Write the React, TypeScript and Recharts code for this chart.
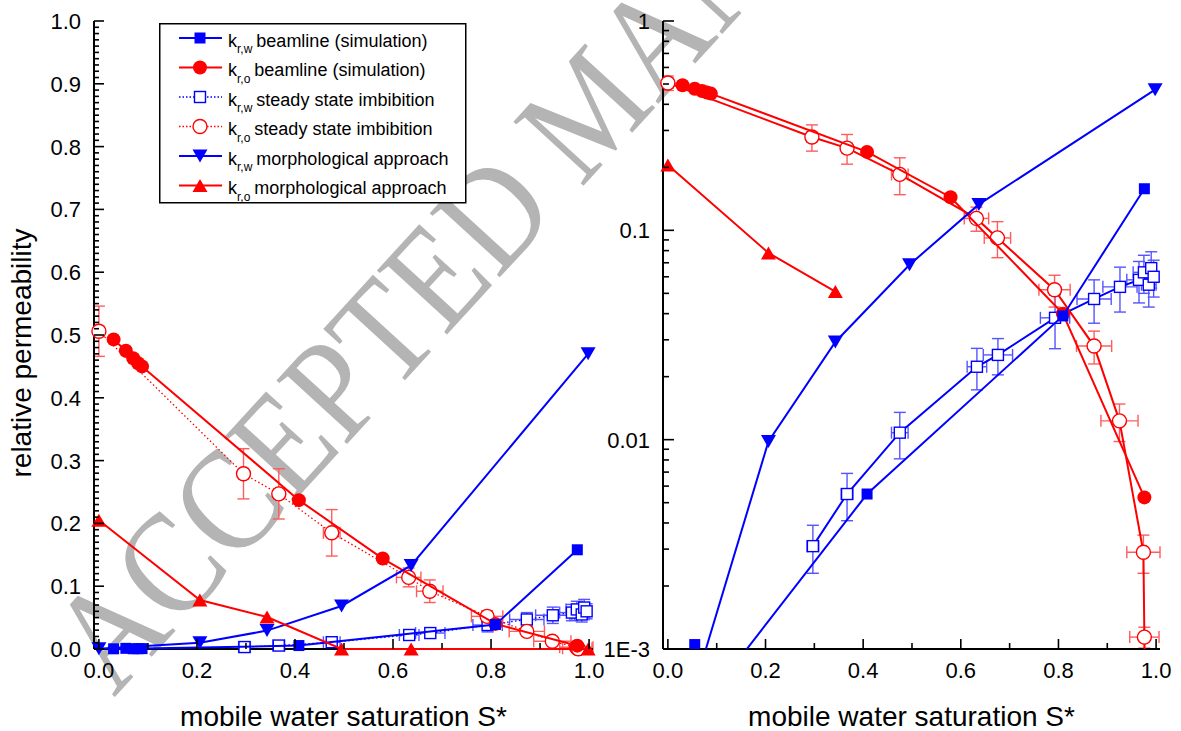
import React from "react";
import { ScatterChart, Scatter, XAxis, YAxis, ErrorBar, Legend, Label } from "recharts";

const FONT = "Arial, 'Liberation Sans', sans-serif";
const SERIF = "'Liberation Serif', 'Times New Roman', serif";
const BLUE = "#0000ff";
const RED = "#ff0000";
const BLUE_ERR = "#5555ff";
const RED_ERR = "#ff5c5c";

// ---- mobile water saturation S* vs relative permeability ----
// beamline simulation, water phase
const beamWaterSat = [0.03, 0.055, 0.07, 0.08, 0.088, 0.408, 0.809, 0.976];
const beamWaterKr = [0.0003, 0.00105, 0.0004, 0.0005, 0.0006, 0.0055, 0.039, 0.158];
// beamline simulation, oil phase
const beamOilSat = [0.03, 0.055, 0.07, 0.08, 0.088, 0.408, 0.579, 0.809, 0.976];
const beamOilKr = [0.493, 0.475, 0.463, 0.455, 0.45, 0.237, 0.144, 0.04, 0.0053];
// steady state imbibition, water phase (with uncertainties)
const ssWaterSat = [0.297, 0.367, 0.475, 0.633, 0.676, 0.793, 0.873, 0.926, 0.965, 0.975, 0.985, 0.99, 0.995];
const ssWaterKr = [0.0031, 0.0055, 0.0108, 0.0223, 0.0254, 0.0382, 0.047, 0.0537, 0.058, 0.063, 0.055, 0.066, 0.06];
const ssWaterSatErr = [0.012, 0.012, 0.017, 0.02, 0.03, 0.03, 0.035, 0.035, 0.025, 0.022, 0.015, 0.01, 0.005];
const ssWaterKrErr = [0.0008, 0.0014, 0.0027, 0.005, 0.005, 0.011, 0.011, 0.013, 0.013, 0.013, 0.012, 0.013, 0.012];
// steady state imbibition, oil phase (with uncertainties)
const ssOilSat = [0.0, 0.295, 0.367, 0.475, 0.632, 0.675, 0.792, 0.873, 0.925, 0.974, 0.976, 0.978];
const ssOilKr = [0.506, 0.279, 0.247, 0.185, 0.114, 0.092, 0.052, 0.028, 0.0123, 0.0029, 0.00114, 0.0004];
const ssOilSatErr = [0.01, 0.01, 0.01, 0.017, 0.025, 0.027, 0.032, 0.036, 0.038, 0.034, 0.03, 0];
const ssOilKrErr = [0.04, 0.04, 0.04, 0.037, 0.015, 0.018, 0.009, 0.005, 0.0025, 0.0006, 0.00013, 0];
// morphological approach
const morphSat = [0.0, 0.206, 0.343, 0.495, 0.637, 0.998];
const morphWaterKr = [0.00025, 0.0098, 0.0293, 0.0685, 0.133, 0.47];
const morphOilKr = [0.205, 0.078, 0.051, 0, 0, 0];

// ---- axis ticks ----
const satTicks = [0, 0.1, 0.2, 0.3, 0.4, 0.5, 0.6, 0.7, 0.8, 0.9, 1.0];
const satLabelled = [0, 0.2, 0.4, 0.6, 0.8, 1.0];
const linMajor = [0, 0.1, 0.2, 0.3, 0.4, 0.5, 0.6, 0.7, 0.8, 0.9, 1.0];
const linTicks = Array.from({ length: 101 }, (_, i) => i / 100);
const logMajor = [0.001, 0.01, 0.1, 1];
const logMajorText = ["1E-3", "0.01", "0.1", "1"];
const logTicks = [
  0.001, 0.002, 0.003, 0.004, 0.005, 0.006, 0.007, 0.008, 0.009,
  0.01, 0.02, 0.03, 0.04, 0.05, 0.06, 0.07, 0.08, 0.09,
  0.1, 0.2, 0.3, 0.4, 0.5, 0.6, 0.7, 0.8, 0.9, 1,
];

const legendRows = [
  { sub: "r,w", text: "beamline (simulation)", color: BLUE, marker: "fsq", dotted: false },
  { sub: "r,o", text: "beamline (simulation)", color: RED, marker: "fci", dotted: false },
  { sub: "r,w", text: "steady state imbibition", color: BLUE, marker: "osq", dotted: true },
  { sub: "r,o", text: "steady state imbibition", color: RED, marker: "oci", dotted: true },
  { sub: "r,w", text: "morphological approach", color: BLUE, marker: "dtri", dotted: false },
  { sub: "r,o", text: "morphological approach", color: RED, marker: "utri", dotted: false },
];

const pts = (xs: number[], ys: number[]) => xs.map((x, i) => ({ x, y: ys[i] }));
const ptsErr = (xs: number[], ys: number[], exs: number[], eys: number[]) =>
  xs.map((x, i) => ({ x, y: ys[i], ex: exs[i], ey: eys[i] }));

// ---- marker glyphs ----
function marker(kind: string, color: string, cx: number, cy: number, scale = 1) {
  if (!isFinite(cx) || !isFinite(cy)) return <g />;
  switch (kind) {
    case "fsq": {
      const s = 11 * scale;
      return <rect x={cx - s / 2} y={cy - s / 2} width={s} height={s} fill={color} />;
    }
    case "fci":
      return <circle cx={cx} cy={cy} r={7 * scale} fill={color} />;
    case "osq": {
      const s = 11 * scale;
      return <rect x={cx - s / 2} y={cy - s / 2} width={s} height={s} fill="#fff" stroke={color} strokeWidth={1.4} />;
    }
    case "oci":
      return <circle cx={cx} cy={cy} r={7 * scale} fill="#fff" stroke={color} strokeWidth={1.4} />;
    case "dtri": {
      const w = 15 * scale, h = 13 * scale;
      return <polygon points={`${cx - w / 2},${cy - h / 2} ${cx + w / 2},${cy - h / 2} ${cx},${cy + h / 2}`} fill={color} />;
    }
    default: {
      const w = 15 * scale, h = 13 * scale;
      return <polygon points={`${cx - w / 2},${cy + h / 2} ${cx + w / 2},${cy + h / 2} ${cx},${cy - h / 2}`} fill={color} />;
    }
  }
}
const shapeOf = (kind: string, color: string) => (p: any) => marker(kind, color, p.cx, p.cy);

// ---- axis tick renderers (ticks point into the frame) ----
const same = (a: number, b: number) => Math.abs(a - b) < 1e-9;
function tickFactory(
  side: "bottom" | "top" | "left" | "right",
  majors: number[],
  majorLen: number,
  minorLen: number,
  fmt?: (v: number) => string
) {
  return (props: any) => {
    const x = Number(props.x);
    const y = Number(props.y);
    const v = Number(props.payload?.value);
    const isMajor = majors.some((t) => same(t, v));
    const len = isMajor ? majorLen : minorLen;
    let l = { x1: x, y1: y, x2: x, y2: y - len };
    if (side === "top") l = { x1: x, y1: y, x2: x, y2: y + len };
    if (side === "left") l = { x1: x, y1: y, x2: x + len, y2: y };
    if (side === "right") l = { x1: x, y1: y, x2: x - len, y2: y };
    let label: any = null;
    if (isMajor && fmt) {
      if (side === "bottom")
        label = (
          <text x={x} y={y + 29} textAnchor="middle" fontSize={22} fontFamily={FONT} fill="#000">
            {fmt(v)}
          </text>
        );
      if (side === "left")
        label = (
          <text x={x - 13} y={y + 8} textAnchor="end" fontSize={22} fontFamily={FONT} fill="#000">
            {fmt(v)}
          </text>
        );
    }
    return (
      <g>
        <line {...l} stroke="#000" strokeWidth={1.6} />
        {label}
      </g>
    );
  };
}

const satFmt = (v: number) => v.toFixed(1);
const linFmt = (v: number) => v.toFixed(1);
const logFmt = (v: number) => {
  const i = logMajor.findIndex((t) => same(t, v));
  return i >= 0 ? logMajorText[i] : "";
};

const frameLine = { stroke: "#000", strokeWidth: 2 };

function XTitle(props: any) {
  const vb = props.viewBox || {};
  return (
    <text x={vb.x + vb.width / 2} y={vb.y + 77} textAnchor="middle" fontSize={28} fontFamily={FONT} fill="#000">
      mobile water saturation S*
    </text>
  );
}

function YTitle(props: any) {
  const vb = props.viewBox || {};
  const x = vb.x - 3;
  const y = vb.y + vb.height / 2 + 18;
  return (
    <text x={x} y={y} transform={`rotate(-90 ${x} ${y})`} textAnchor="middle" fontSize={28} fontFamily={FONT} fill="#000">
      relative permeability
    </text>
  );
}

function LegendBox() {
  return (
    <svg width={308} height={181} style={{ display: "block" }}>
      <rect x={0.75} y={0.75} width={306} height={179} fill="#fff" stroke="#000" strokeWidth={1.5} />
      {legendRows.map((r, i) => {
        const cy = 15 + i * 29.5;
        return (
          <g key={i}>
            <line
              x1={20}
              x2={63}
              y1={cy}
              y2={cy}
              stroke={r.color}
              strokeWidth={r.dotted ? 1.3 : 2}
              strokeDasharray={r.dotted ? "1.5 2" : undefined}
            />
            {marker(r.marker, r.color, 41, cy)}
            <text x={69} y={cy + 8.7} fontSize={18} fontFamily={FONT} fill="#000">
              <tspan>k</tspan>
              <tspan dy={6.5} fontSize={12}>
                {r.sub}
              </tspan>
              <tspan dy={-6.5} dx={4}>
                {r.text}
              </tspan>
            </text>
          </g>
        );
      })}
    </svg>
  );
}

function series(log: boolean) {
  const ssLine = log
    ? { strokeWidth: 2 }
    : { strokeWidth: 1.3, strokeDasharray: "1.5 2.5" };
  const oilMorph = pts(morphSat, morphOilKr).filter((p) => !log || p.y > 0);
  return [
    <Scatter
      key="ssw"
      xAxisId="s"
      yAxisId="k"
      data={ptsErr(ssWaterSat, ssWaterKr, ssWaterSatErr, ssWaterKrErr)}
      dataKey="y"
      fill={BLUE}
      line={{ stroke: BLUE, ...ssLine }}
      lineType="joint"
      shape={shapeOf("osq", BLUE)}
      isAnimationActive={false}
    >
      <ErrorBar dataKey="ey" direction="y" width={6} stroke={BLUE_ERR} strokeWidth={1.4} isAnimationActive={false} />
      <ErrorBar dataKey="ex" direction="x" width={6} stroke={BLUE_ERR} strokeWidth={1.4} isAnimationActive={false} />
    </Scatter>,
    <Scatter
      key="sso"
      xAxisId="s"
      yAxisId="k"
      data={ptsErr(ssOilSat, ssOilKr, ssOilSatErr, ssOilKrErr)}
      dataKey="y"
      fill={RED}
      line={{ stroke: RED, ...ssLine }}
      lineType="joint"
      shape={shapeOf("oci", RED)}
      isAnimationActive={false}
    >
      <ErrorBar dataKey="ey" direction="y" width={6} stroke={RED_ERR} strokeWidth={1.4} isAnimationActive={false} />
      <ErrorBar dataKey="ex" direction="x" width={6} stroke={RED_ERR} strokeWidth={1.4} isAnimationActive={false} />
    </Scatter>,
    <Scatter
      key="bo"
      xAxisId="s"
      yAxisId="k"
      data={pts(beamOilSat, beamOilKr)}
      dataKey="y"
      fill={RED}
      line={{ stroke: RED, strokeWidth: 2 }}
      lineType="joint"
      shape={shapeOf("fci", RED)}
      isAnimationActive={false}
    />,
    <Scatter
      key="bw"
      xAxisId="s"
      yAxisId="k"
      data={pts(beamWaterSat, beamWaterKr)}
      dataKey="y"
      fill={BLUE}
      line={{ stroke: BLUE, strokeWidth: 2 }}
      lineType="joint"
      shape={shapeOf("fsq", BLUE)}
      isAnimationActive={false}
    />,
    <Scatter
      key="mw"
      xAxisId="s"
      yAxisId="k"
      data={pts(morphSat, morphWaterKr)}
      dataKey="y"
      fill={BLUE}
      line={{ stroke: BLUE, strokeWidth: 2 }}
      lineType="joint"
      shape={shapeOf("dtri", BLUE)}
      isAnimationActive={false}
    />,
    <Scatter
      key="mo"
      xAxisId="s"
      yAxisId="k"
      data={oilMorph}
      dataKey="y"
      fill={RED}
      line={{ stroke: RED, strokeWidth: 2 }}
      lineType="joint"
      shape={shapeOf("utri", RED)}
      isAnimationActive={false}
    />,
  ];
}

function LinearPanel() {
  return (
    <ScatterChart width={612} height={731} margin={{ top: 21, right: 19, bottom: 42, left: 34 }}>
      <XAxis
        xAxisId="top"
        orientation="top"
        type="number"
        domain={[0, 1]}
        ticks={satTicks}
        interval={0}
        height={0}
        tickSize={0}
        tickMargin={0}
        axisLine={frameLine}
        tickLine={false}
        tick={tickFactory("top", [], 5, 5)}
        allowDataOverflow
      />
      <YAxis
        yAxisId="right"
        orientation="right"
        type="number"
        domain={[0, 1]}
        ticks={[0, 1]}
        width={0}
        axisLine={frameLine}
        tickLine={false}
        tick={false}
        allowDataOverflow
      />
      <XAxis
        xAxisId="s"
        dataKey="x"
        type="number"
        domain={[0, 1]}
        ticks={satTicks}
        interval={0}
        height={40}
        tickSize={0}
        tickMargin={0}
        axisLine={frameLine}
        tickLine={false}
        tick={tickFactory("bottom", satLabelled, 10, 6, satFmt)}
      >
        <Label content={<XTitle />} />
      </XAxis>
      <YAxis
        yAxisId="k"
        dataKey="y"
        type="number"
        domain={[0, 1]}
        ticks={linTicks}
        interval={0}
        width={60}
        tickSize={0}
        tickMargin={0}
        axisLine={frameLine}
        tickLine={false}
        tick={tickFactory("left", linMajor, 10, 5, linFmt)}
      >
        <Label content={<YTitle />} />
      </YAxis>
      {series(false)}
      <Legend
        layout="vertical"
        align="center"
        verticalAlign="middle"
        wrapperStyle={{ left: 159, top: 23, width: 308, height: 181 }}
        content={() => <LegendBox />}
      />
    </ScatterChart>
  );
}

function LogPanel() {
  return (
    <ScatterChart width={581} height={731} margin={{ top: 21, right: 21, bottom: 42, left: 13 }}>
      <XAxis
        xAxisId="top"
        orientation="top"
        type="number"
        domain={[0, 1]}
        ticks={satTicks}
        interval={0}
        height={0}
        tickSize={0}
        tickMargin={0}
        axisLine={frameLine}
        tickLine={false}
        tick={tickFactory("top", [], 5, 5)}
        allowDataOverflow
      />
      <YAxis
        yAxisId="right"
        orientation="right"
        type="number"
        scale="log"
        domain={[0.001, 1]}
        ticks={logTicks}
        interval={0}
        width={0}
        tickSize={0}
        tickMargin={0}
        axisLine={frameLine}
        tickLine={false}
        tick={tickFactory("right", logMajor, 8, 5)}
        allowDataOverflow
      />
      <XAxis
        xAxisId="s"
        dataKey="x"
        type="number"
        domain={[0, 1]}
        ticks={satTicks}
        interval={0}
        height={40}
        tickSize={0}
        tickMargin={0}
        axisLine={frameLine}
        tickLine={false}
        tick={tickFactory("bottom", satLabelled, 10, 6, satFmt)}
      >
        <Label content={<XTitle />} />
      </XAxis>
      <YAxis
        yAxisId="k"
        dataKey="y"
        type="number"
        scale="log"
        domain={[0.001, 1]}
        ticks={logTicks}
        interval={0}
        width={50}
        tickSize={0}
        tickMargin={0}
        axisLine={frameLine}
        tickLine={false}
        tick={tickFactory("left", logMajor, 11, 6, logFmt)}
        allowDataOverflow
      />
      {series(true)}
    </ScatterChart>
  );
}

export default function App() {
  return (
    <div
      style={{
        position: "absolute",
        left: 0,
        top: 0,
        width: 1181,
        height: 731,
        background: "#fff",
        overflow: "hidden",
        fontFamily: FONT,
      }}
    >
      <svg width={1181} height={731} style={{ position: "absolute", left: 0, top: 0 }}>
        <text
          transform="translate(114 698) rotate(-47.5) scale(0.88 1)"
          fontSize={145}
          fontFamily={SERIF}
          fill="#b4b4b4"
        >
          ACCEPTED MANUSCRIPT
        </text>
      </svg>
      <div style={{ position: "absolute", left: 0, top: 0 }}>
        <LinearPanel />
      </div>
      <div style={{ position: "absolute", left: 600, top: 0 }}>
        <LogPanel />
      </div>
    </div>
  );
}
